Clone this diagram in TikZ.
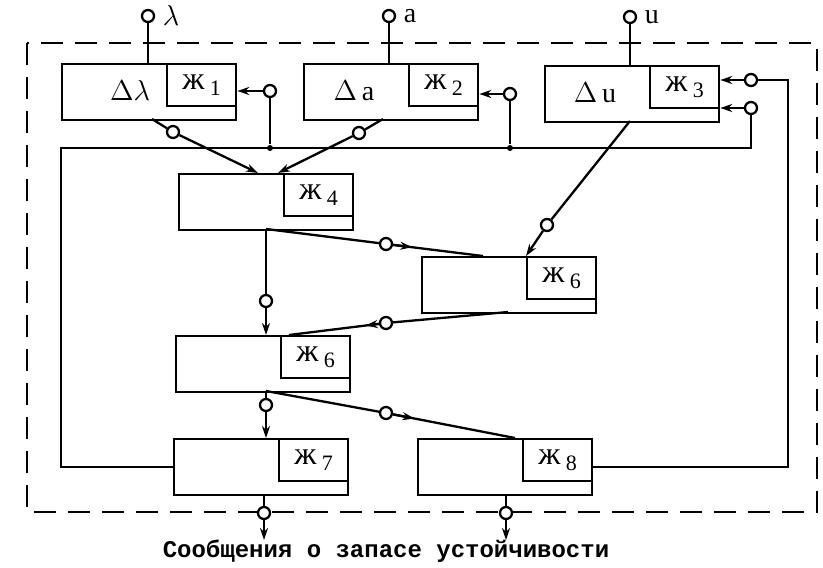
\documentclass[tikz,border=0pt]{standalone}
\usepackage{fontspec}
\setmainfont{Liberation Serif}
\newfontfamily\capfont{Liberation Mono}
\usetikzlibrary{arrows.meta,calc}
\newcommand{\zh}[1]{ж\,\raisebox{-0.45ex}{\fontsize{11}{12}\selectfont #1}}

\begin{document}
\begin{tikzpicture}
      [x=0.5pt,y=-0.5pt,line width=1.15pt,
       block/.style={draw,rectangle,anchor=north west,minimum width=87pt,minimum height=28pt,inner sep=0},
       sub/.style={draw,rectangle,anchor=north east,minimum width=34.5pt,minimum height=21pt,inner sep=0,font=\fontsize{16}{18}\selectfont},
       lbl/.style={font=\fontsize{14}{16}\selectfont},
       term/.style={circle,draw,fill=white,inner sep=0,minimum size=6pt},
       junct/.style={circle,fill,inner sep=0,minimum size=3pt},
       >={Stealth[length=6pt,width=4pt]}]
      \useasboundingbox (0,0) rectangle (823,567);

      % frame
      \draw[dash pattern=on 11pt off 6pt] (27,43) rectangle (817,512);

      \node[block] (b1) at (61,63) {};
      \node[block] (b2) at (303,63) {};
      \node[block] (b3) at (544,65) {};
      \node[block] (b4) at (178,173) {};
      \node[block] (b5) at (421,256) {};
      \node[block] (b6) at (175,335) {};
      \node[block] (b7) at (173,438) {};
      \node[block] (b8) at (417,438) {};
      \foreach \n/\k in {1/1,2/2,3/3,4/4,5/6,6/6,7/7,8/8}
      \node[sub] (z\n) at (b\n.north east) {\zh{\k}};

      \node[lbl] (l1) at (130,91) {$\Delta\lambda$};
      \node[lbl] (l2) at (354,91) {$\Delta$\,a};
      \node[lbl] (l3) at (595,93) {$\Delta$\,u};

      % inputs
      \node[term] (tl) at (148,16) {};
      \node[term] (ta) at (389,16) {};
      \node[term] (tu) at (630,17) {};
      \node[lbl,anchor=west] (nl) at (tl.east) {$\lambda$};
      \node[lbl,anchor=west] (na) at (ta.east) {a};
      \node[lbl,anchor=west] (nu) at (tu.east) {u};
      \foreach \from/\to in {tl/b1,ta/b2,tu/b3}
      \draw (\from) -- (\from |- \to.north);

      % feedback bus
      \node[term] (c1) at (270,91) {};
      \node[term] (c2) at (510,94) {};
      \node[term] (c3a) at (751,80) {};
      \node[term] (c3b) at (751,108) {};
      \coordinate (busl) at (61,148);
      \coordinate (busr) at (788,80);
      \node[junct] (k1) at (c1 |- busl) {};
      \node[junct] (k2) at (c2 |- busl) {};
      \draw[->] (c1) -- (c1 -| z1.east);
      \draw[->] (c2) -- (c2 -| z2.east);
      \draw[->] (c3a) -- (c3a -| z3.east);
      \draw[->] (c3b) -- (c3b -| b3.east);
      \draw (c1) -- (k1);
      \draw (c2) -- (k2);
      \draw (c3b) |- (busl) |- (b7.west);
      \draw (c3a) -- (busr) |- (b8.east);

      % links between blocks
      \coordinate (s1) at (152,119);
      \coordinate (s2) at (383,119);
      \coordinate (s3) at (630,121);
      \coordinate (s5) at (508,312);
      \coordinate (p4) at (266,229);
      \coordinate (p6) at (266,391);
      \coordinate (p7) at (264,494);
      \coordinate (p8) at (506,494);
      \coordinate (e14) at (258,173);
      \coordinate (e24) at (278,173);
      \coordinate (e45) at (483,256);
      \coordinate (e54) at (289,335);
      \coordinate (e68) at (515,438);
      \coordinate (q7) at (264,540);
      \coordinate (q8) at (506,540);
      \node[term] (o14) at (173,132) {};
      \node[term] (o24) at (359,133) {};
      \node[term] (o35) at (547,225) {};
      \node[term] (o46) at (266,301) {};
      \node[term] (o45) at (386,244) {};
      \node[term] (o54) at (386,323) {};
      \node[term] (o67) at (266,405) {};
      \node[term] (o68) at (386,413) {};

      \foreach \from/\to in {s1/o14,s2/o24,s3/o35,p4/o46,p4/o45,s5/o54,p6/o67,p6/o68,o45/e45,o54/e54,o68/e68}
      \draw (\from) -- (\to);
      \foreach \from/\to in {o14/e14,o24/e24,o35/z5.north west}
      \draw[->] (\from) -- (\to);
      \draw[->] (o46) -- (o46 |- b6.north);
      \draw[->] (o67) -- (o67 |- b7.north);
      \draw[->] (o45) -- ($(o45)!0.27!(e45)$);
      \draw[->] (o68) -- ($(o68)!0.22!(e68)$);
      \draw[->] (o54) -- ($(o54)!0.21!(e54)$);

      % outputs
      \node[term] (o7) at (264,513) {};
      \node[term] (o8) at (506,513) {};
      \draw (p7) -- (o7);
      \draw (p8) -- (o8);
      \draw[->] (o7) -- (q7);
      \draw[->] (o8) -- (q8);

      \node[font=\capfont\bfseries\fontsize{12}{14}\selectfont] (cap) at (386,551) {Сообщения о запасе устойчивости};
    \end{tikzpicture}
\end{document}
